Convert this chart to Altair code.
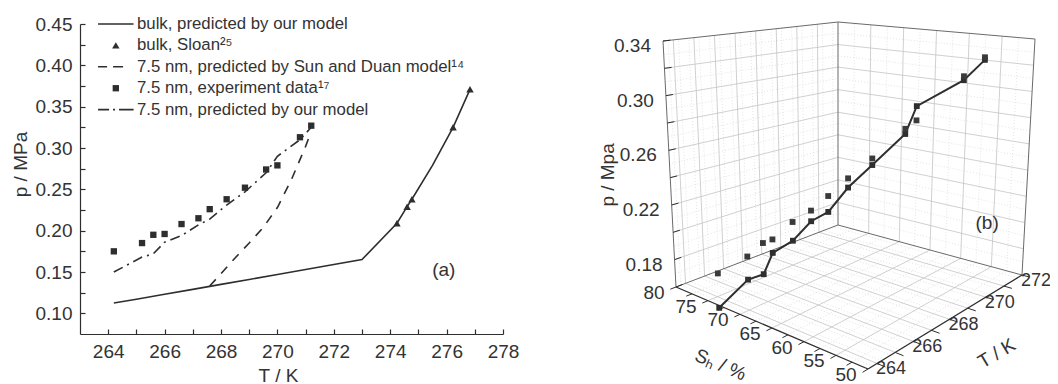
import altair as alt
import pandas as pd

# ---------------- data: panel (a) ----------------
T_bulk = [264.2, 265.0, 266.0, 267.0, 268.0, 269.0, 270.0, 271.0, 272.0, 273.0,
          274.24, 274.6, 274.77, 275.5, 276.23, 276.83]
p_bulk = [0.1125, 0.117, 0.123, 0.129, 0.135, 0.141, 0.147, 0.153, 0.159, 0.165,
          0.209, 0.229, 0.238, 0.279, 0.325, 0.371]
T_sloan = [274.24, 274.6, 274.77, 276.23, 276.83]
p_sloan = [0.209, 0.229, 0.238, 0.325, 0.371]
T_sd = [267.6, 268.0, 268.5, 269.0, 269.5, 270.0, 270.5, 271.0, 271.2]
p_sd = [0.133, 0.148, 0.167, 0.185, 0.204, 0.228, 0.262, 0.302, 0.320]
T_exp = [264.2, 265.2, 265.6, 266.0, 266.6, 267.2, 267.6, 268.2, 268.85, 269.6, 270.0, 270.8, 271.2]
p_exp = [0.175, 0.185, 0.195, 0.196, 0.208, 0.215, 0.226, 0.238, 0.252, 0.274, 0.279, 0.313, 0.327]
p_model = [0.150, 0.168, 0.172, 0.186, 0.194, 0.207, 0.214, 0.231, 0.247, 0.270, 0.290, 0.310, 0.325]
# ---------------- data: panel (b) ----------------
S_h = [75.4, 73.7, 72.4, 72.1, 70.7, 69.6, 68.1, 66.8, 65.0, 62.2, 61.7, 57.0, 55.1]

series_labels = ["bulk, predicted by our model", "bulk, Sloan²⁵",
                 "7.5 nm, predicted by Sun and Duan model¹⁴",
                 "7.5 nm, experiment data¹⁷", "7.5 nm, predicted by our model"]
series_kind = ["solid", "triangle", "dash", "square", "dashdot"]

x_ticks_a = list(range(264, 279))
y_ticks_a = [round(0.1 + 0.025 * i, 3) for i in range(15)]
p_labels_b = [0.18, 0.22, 0.26, 0.30, 0.34]
p_ticks_b = [round(0.16 + 0.02 * i, 2) for i in range(10)]
S_labels_b = [80, 75, 70, 65, 60, 55, 50]
S_ticks_b = [50 + 2.5 * i for i in range(13)]
T_labels_b = [264, 266, 268, 270, 272]
T_ticks_b = list(range(264, 273))
T_grid_b = list(range(264, 272))
S_grid_b = [55, 60, 65, 70, 75]
p_grid_b = [0.18, 0.20, 0.22, 0.24, 0.26, 0.28, 0.30, 0.32]
T_minor_b = [263.75 + 0.5 * i for i in range(17)]
S_minor_b = [52.5, 57.5, 62.5, 67.5, 72.5, 77.5]
p_minor_b = [round(0.17 + 0.02 * i, 2) for i in range(9)]

# ---------------- style ----------------
FONT = "Liberation Sans, Arial, sans-serif"
TXT = "#333333"
INK = "#2e2e2e"
GRID = "#c4c4c4"
MINOR = "#d9d9d9"
EDGE = "#6a6a6a"
DASH = [9, 8]
DASHDOT = [10, 5, 2, 5]

# legend placement inside panel (a), in the panel's data units
LEG_T0, LEG_T1, LEG_TXT = 263.64, 264.90, 265.02
LEG_P0, LEG_DP = 0.45, 0.0259

# 3D box ranges and its projection (page pixels) for panel (b)
T_LO, T_HI = 263.5, 272.0
S_LO, S_HI = 50.0, 80.0
P_LO, P_HI = 0.16, 0.34
FX, FY = 868, 369
RX, RY = 1022, 275
LX, LY = 676, 287
BX, BY = 838, 225
HF, HR, HL, HB = 280, 236, 246, 203
DF, DR, DL, DB = 0, 13, -13, 0


def proj(t, s, p):
    u = f"((datum.{t}-{T_LO})/{T_HI - T_LO})"
    v = f"((datum.{s}-{S_LO})/{S_HI - S_LO})"
    w = f"((datum.{p}-{P_LO})/{P_HI - P_LO})"

    def bil(a, b, c, d):
        return f"({a}+({b - a})*{u}+({c - a})*{v}+({d - b - c + a})*{u}*{v})"

    X = f"{bil(FX, RX, LX, BX)}+{bil(DF, DR, DL, DB)}*{w}"
    Y = f"{bil(FY, RY, LY, BY)}-{bil(HF, HR, HL, HB)}*{w}"
    return X, Y


W, H = 1042, 376

# ---------------- panel (a) ----------------
ax_x = alt.Axis(title="T / K", values=x_ticks_a, format="d",
                labelExpr="datum.value % 2 == 0 ? datum.label : ''",
                grid=False, offset=326 - H, tickSize={"expr": "-5"},
                tickColor=INK, domainColor=INK, tickWidth=1.2, domainWidth=1.2,
                labelFont=FONT, labelFontSize=19, labelColor=TXT, labelPadding=13,
                labelFlush=False, labelOverlap=False,
                titleFont=FONT, titleFontSize=19, titleFontWeight="normal", titleColor=TXT,
                titleX=270, titleY=41, titleBaseline="middle", titleAlign="center")
ax_y = alt.Axis(title="p / MPa", values=y_ticks_a,
                labelExpr="round(datum.value*1000) % 50 == 0 ? format(datum.value, '.2f') : ''",
                grid=False, offset=-72, tickSize={"expr": "-5"},
                tickColor=INK, domainColor=INK, tickWidth=1.2, domainWidth=1.2,
                labelFont=FONT, labelFontSize=19, labelColor=TXT, labelPadding=13,
                labelFlush=False, labelOverlap=False,
                titleFont=FONT, titleFontSize=19, titleFontWeight="normal", titleColor=TXT,
                titleX=-60, titleY=156, titleAngle=270, titleBaseline="middle", titleAlign="center")

sc_xa = alt.Scale(domain=[263, 278], range=[72, 495], nice=False, zero=False)
sc_ya = alt.Scale(domain=[0.075, 0.45], range=[326, 16], nice=False, zero=False)
xa = alt.X("T:Q", scale=sc_xa, axis=ax_x)
ya = alt.Y("p:Q", scale=sc_ya, axis=ax_y)

df_bulk = pd.DataFrame({"T": T_bulk, "p": p_bulk})
df_sd = pd.DataFrame({"T": T_sd, "p": p_sd})
df_model = pd.DataFrame({"T": T_exp, "p": p_model})
df_sloan = pd.DataFrame({"T": T_sloan, "p": p_sloan})
df_exp = pd.DataFrame({"T": T_exp, "p": p_exp})

line_bulk = alt.Chart(df_bulk).mark_line(color=INK, strokeWidth=1.6).encode(x=xa, y=ya, order="T:Q")
line_sd = alt.Chart(df_sd).mark_line(color=INK, strokeWidth=1.6, strokeDash=DASH).encode(x=xa, y=ya, order="T:Q")
line_model = alt.Chart(df_model).mark_line(color=INK, strokeWidth=1.6, strokeDash=DASHDOT).encode(x=xa, y=ya, order="T:Q")
pts_sloan = alt.Chart(df_sloan).mark_point(shape="triangle-up", filled=True, size=55, color=INK, opacity=1).encode(x=xa, y=ya)
pts_exp = alt.Chart(df_exp).mark_square(size=40, color=INK, opacity=1).encode(x=xa, y=ya)

# legend (drawn with the panel's own scales)
leg = pd.DataFrame({"lab": series_labels, "kind": series_kind,
                    "p": [LEG_P0 - LEG_DP * i for i in range(len(series_labels))]})
leg["T"] = LEG_T0
leg["T2"] = LEG_T1
leg["Tm"] = (LEG_T0 + LEG_T1) / 2
leg["Tt"] = LEG_TXT


def leg_rule(kind, dash):
    kw = dict(color=INK, strokeWidth=1.6)
    if dash:
        kw["strokeDash"] = dash
    return alt.Chart(leg).transform_filter(f"datum.kind == '{kind}'").mark_rule(**kw).encode(
        x=xa, x2="T2:Q", y=ya)


leg_solid = leg_rule("solid", None)
leg_dash = leg_rule("dash", [9, 6, 10, 40])
leg_dd = leg_rule("dashdot", [11, 4, 2, 4, 20])
leg_tri = alt.Chart(leg).transform_filter("datum.kind == 'triangle'").mark_point(
    shape="triangle-up", filled=True, size=55, color=INK, opacity=1).encode(
    x=alt.X("Tm:Q", scale=sc_xa, axis=ax_x), y=ya)
leg_sq = alt.Chart(leg).transform_filter("datum.kind == 'square'").mark_square(
    size=40, color=INK, opacity=1).encode(x=alt.X("Tm:Q", scale=sc_xa, axis=ax_x), y=ya)
leg_txt = alt.Chart(leg).mark_text(font=FONT, fontSize=16.8, color=TXT, align="left", baseline="middle").encode(
    x=alt.X("Tt:Q", scale=sc_xa, axis=ax_x), y=ya, text="lab:N")

lab_a = alt.Chart(pd.DataFrame({"T": [275.9], "p": [0.152], "lab": ["(a)"]})).mark_text(
    font=FONT, fontSize=19, color=TXT, align="center", baseline="middle").encode(x=xa, y=ya, text="lab:N")

panel_a = alt.layer(line_bulk, line_sd, line_model, pts_sloan, pts_exp,
                    leg_solid, leg_dash, leg_dd, leg_tri, leg_sq, leg_txt, lab_a)

# ---------------- panel (b) ----------------
xs_b = alt.Scale(domain=[8, 8 + W], nice=False, zero=False)
ys_b = alt.Scale(domain=[8 + H, 8], nice=False, zero=False)


def seg_chart(rows, color, width, dash=None):
    df = pd.DataFrame(rows, columns=["T1", "S1", "p1", "T2", "S2", "p2"])
    X1, Y1 = proj("T1", "S1", "p1")
    X2, Y2 = proj("T2", "S2", "p2")
    kw = dict(color=color, strokeWidth=width)
    if dash:
        kw["strokeDash"] = dash
    return alt.Chart(df).transform_calculate(X1=X1, Y1=Y1, X2=X2, Y2=Y2).mark_rule(**kw).encode(
        x=alt.X("X1:Q", scale=xs_b, axis=None), x2="X2:Q",
        y=alt.Y("Y1:Q", scale=ys_b, axis=None), y2="Y2:Q")


minor_rows = []
for t in T_minor_b:
    minor_rows.append((t, S_HI, P_LO, t, S_HI, P_HI))
    minor_rows.append((t, S_LO, P_LO, t, S_HI, P_LO))
for p in p_minor_b:
    minor_rows.append((T_LO, S_HI, p, T_HI, S_HI, p))
    minor_rows.append((T_HI, S_LO, p, T_HI, S_HI, p))
for s in S_minor_b:
    minor_rows.append((T_HI, s, P_LO, T_HI, s, P_HI))
    minor_rows.append((T_LO, s, P_LO, T_HI, s, P_LO))

grid_rows = []
for t in T_grid_b:
    grid_rows.append((t, S_HI, P_LO, t, S_HI, P_HI))
    grid_rows.append((t, S_LO, P_LO, t, S_HI, P_LO))
for p in p_grid_b:
    grid_rows.append((T_LO, S_HI, p, T_HI, S_HI, p))
    grid_rows.append((T_HI, S_LO, p, T_HI, S_HI, p))
for s in S_grid_b:
    grid_rows.append((T_HI, s, P_LO, T_HI, s, P_HI))
    grid_rows.append((T_LO, s, P_LO, T_HI, s, P_LO))

edge_rows = [
    (T_LO, S_HI, P_LO, T_LO, S_HI, P_HI),
    (T_LO, S_HI, P_HI, T_HI, S_HI, P_HI),
    (T_HI, S_HI, P_LO, T_HI, S_HI, P_HI),
    (T_HI, S_HI, P_HI, T_HI, S_LO, P_HI),
    (T_HI, S_LO, P_LO, T_HI, S_LO, P_HI),
    (T_LO, S_HI, P_LO, T_HI, S_HI, P_LO),
    (T_HI, S_HI, P_LO, T_HI, S_LO, P_LO),
]
axis_rows = [
    (T_LO, S_HI, P_LO, T_LO, S_LO, P_LO),
    (T_LO, S_LO, P_LO, T_HI, S_LO, P_LO),
]
tick_rows = []
for p in p_ticks_b:
    tick_rows.append((T_LO, S_HI, p, T_LO + 0.35, S_HI, p))
for s in S_ticks_b:
    tick_rows.append((T_LO, s, P_LO, T_LO - 0.3, s, P_LO))
for t in T_ticks_b:
    tick_rows.append((t, S_LO, P_LO, t, S_LO - 1.3, P_LO))

minor_b = seg_chart(minor_rows, MINOR, 0.7, dash=[1, 2])
grid_b = seg_chart(grid_rows, GRID, 0.8)
edges_b = seg_chart(edge_rows, EDGE, 1.0)
axes_b = seg_chart(axis_rows, INK, 1.3)
ticks_b = seg_chart(tick_rows, INK, 1.0)

Xp, Yp = proj("T", "S", "p")
xb = alt.X("X:Q", scale=xs_b, axis=None)
yb = alt.Y("Y:Q", scale=ys_b, axis=None)

df_b_model = pd.DataFrame({"T": T_exp, "S": S_h, "p": p_model, "i": list(range(len(T_exp)))})
df_b_exp = pd.DataFrame({"T": T_exp, "S": S_h, "p": p_exp})

line_b = alt.Chart(df_b_model).transform_calculate(X=Xp, Y=Yp).mark_line(color=INK, strokeWidth=2).encode(
    x=xb, y=yb, order="i:Q")
mk_b = alt.Chart(df_b_model).transform_calculate(X=Xp, Y=Yp).mark_square(color=INK, size=34, opacity=1).encode(
    x=xb, y=yb)
exp_b = alt.Chart(df_b_exp).transform_calculate(X=Xp, Y=Yp).mark_square(color="#3a3a3a", size=34, opacity=1).encode(
    x=xb, y=yb)


def text_chart(T, S, p, labs, align, dx, dy, size=19, angle=0):
    df = pd.DataFrame({"T": T, "S": S, "p": p, "lab": labs})
    kw = dict(font=FONT, fontSize=size, color=TXT, align=align, baseline="middle", dx=dx, dy=dy)
    if angle:
        kw["angle"] = angle
    return alt.Chart(df).transform_calculate(X=Xp, Y=Yp).mark_text(**kw).encode(x=xb, y=yb, text="lab:N")


n = len(p_labels_b)
plab_b = text_chart([T_LO] * n, [S_HI] * n, p_labels_b, [f"{v:.2f}" for v in p_labels_b], "right", -12, 5)
n = len(S_labels_b)
slab_b = text_chart([T_LO] * n, S_labels_b, [P_LO] * n, [str(v) for v in S_labels_b], "center", -22, 6)
n = len(T_labels_b)
tlab_b = text_chart(T_labels_b, [S_LO] * n, [P_LO] * n, [str(v) for v in T_labels_b], "left", -1, 6, size=18)
# rotated titles: dx/dy are in the text's own rotated frame
ttl_p = text_chart([T_LO], [S_HI], [0.242], ["p / Mpa"], "center", 0, -62, angle=270)
ttl_s = text_chart([T_LO], [65.0], [P_LO], ["Sₕ / %"], "center", -33, 54, angle=23)
ttl_t = text_chart([270.3], [S_LO], [P_LO], ["T / K"], "center", -26, 54, angle=329)
lab_b = text_chart([T_HI], [56.0], [0.193], ["(b)"], "center", 0, 0)

panel_b = alt.layer(minor_b, grid_b, edges_b, axes_b, ticks_b, line_b, mk_b, exp_b,
                    plab_b, slab_b, tlab_b, ttl_p, ttl_s, ttl_t, lab_b)

chart = alt.layer(panel_a, panel_b).resolve_scale(x="independent", y="independent").properties(
    width=W, height=H, autosize=alt.AutoSizeParams(type="none"), padding=0
).configure_view(strokeWidth=0)

chart.save("out.html", embed_options={"renderer": "svg", "actions": False})
